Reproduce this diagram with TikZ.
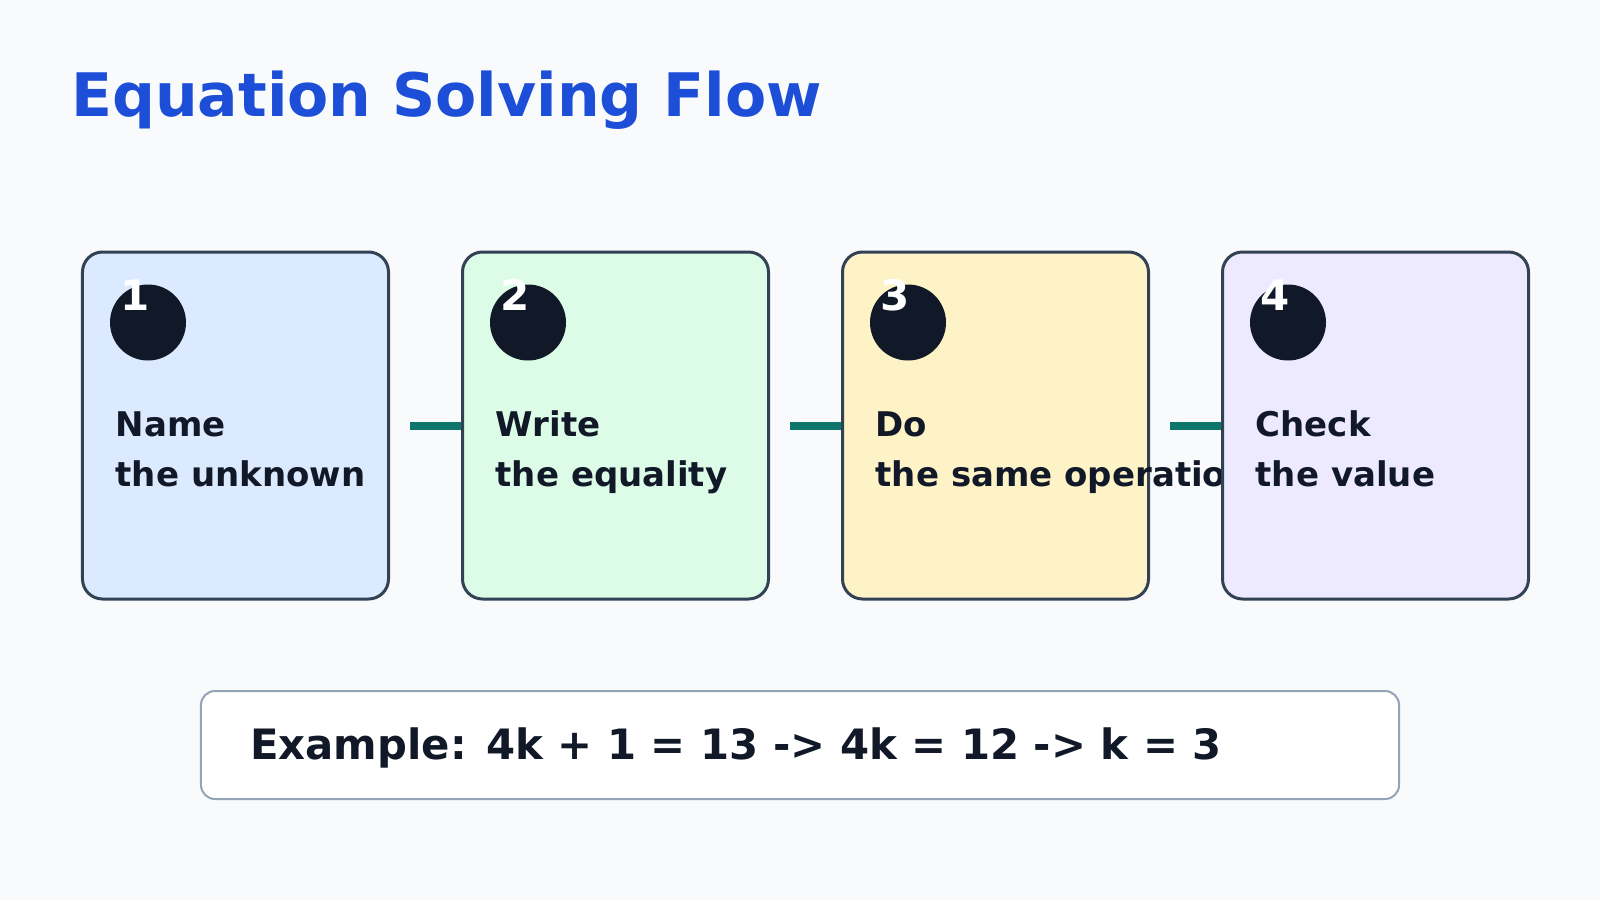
\documentclass[tikz,border=0pt]{standalone}
\usepackage{fontspec}
\setmainfont{DejaVu Sans}
\definecolor{bg}{HTML}{F8FAFC}
\definecolor{titlec}{HTML}{1D4ED8}
\definecolor{strokec}{HTML}{334155}
\definecolor{ink}{HTML}{111827}
\definecolor{connc}{HTML}{0F766E}
\definecolor{exstroke}{HTML}{94A3B8}
\definecolor{fillA}{HTML}{DBEAFE}
\definecolor{fillB}{HTML}{DCFCE7}
\definecolor{fillC}{HTML}{FEF3C7}
\definecolor{fillD}{HTML}{EDE9FE}
\begin{document}
\begin{tikzpicture}[x=1bp,y=-1bp,
  stepbox/.style={draw=strokec, line width=3bp, rounded corners=20bp, minimum width=306bp, minimum height=347bp, inner sep=0pt},
  dot/.style={circle, fill=ink, minimum size=76bp, inner sep=0pt},
  num/.style={anchor=base west, inner sep=0pt, text=white, font=\fontsize{42bp}{42bp}\selectfont\bfseries},
  lbl/.style={anchor=base west, inner sep=0pt, text=ink, font=\fontsize{34bp}{40bp}\selectfont\bfseries},
  conn/.style={draw=connc, line width=8bp},
  titlestyle/.style={anchor=base west, inner sep=0pt, text=titlec, font=\fontsize{60bp}{60bp}\selectfont\bfseries},
  exbox/.style={draw=exstroke, fill=white, line width=2bp, rounded corners=14bp, minimum width=1198bp, minimum height=108bp, inner sep=0pt},
  extext/.style={anchor=base west, inner sep=0pt, text=ink, font=\fontsize{41.8bp}{42bp}\selectfont\bfseries}
]
\useasboundingbox[fill=bg] (0,0) rectangle (1600,900);

\node[titlestyle] (title) at (71,116) {Equation Solving Flow};

% step 1
\node[stepbox, fill=fillA] (b1) at (235.5,425.5) {};
\node[dot] (c1) at ([xshift=67bp,yshift=-72bp]b1.north west) {};
\node[num] (n1) at ([xshift=39bp,yshift=-60bp]b1.north west) {1};
\node[lbl] (l1a) at ([xshift=34.5bp,yshift=-186bp]b1.north west) {Name};
\node[lbl] (l1b) at ([xshift=34.5bp,yshift=-236bp]b1.north west) {the unknown};

% step 2
\node[stepbox, fill=fillB] (b2) at (615.5,425.5) {};
\node[dot] (c2) at ([xshift=67bp,yshift=-72bp]b2.north west) {};
\node[num] (n2) at ([xshift=39bp,yshift=-60bp]b2.north west) {2};
\node[lbl] (l2a) at ([xshift=34.5bp,yshift=-186bp]b2.north west) {Write};
\node[lbl] (l2b) at ([xshift=34.5bp,yshift=-236bp]b2.north west) {the equality};

% step 3
\node[stepbox, fill=fillC] (b3) at (995.5,425.5) {};
\node[dot] (c3) at ([xshift=67bp,yshift=-72bp]b3.north west) {};
\node[num] (n3) at ([xshift=39bp,yshift=-60bp]b3.north west) {3};
\node[lbl] (l3a) at ([xshift=34.5bp,yshift=-186bp]b3.north west) {Do};
\node[lbl] (l3b) at ([xshift=34.5bp,yshift=-236bp]b3.north west) {the same operation};

% step 4
\node[stepbox, fill=fillD] (b4) at (1375.5,425.5) {};
\node[dot] (c4) at ([xshift=67bp,yshift=-72bp]b4.north west) {};
\node[num] (n4) at ([xshift=39bp,yshift=-60bp]b4.north west) {4};
\node[lbl] (l4a) at ([xshift=34.5bp,yshift=-186bp]b4.north west) {Check};
\node[lbl] (l4b) at ([xshift=34.5bp,yshift=-236bp]b4.north west) {the value};

% connectors
\draw[conn] ([xshift=20bp,yshift=-0.5bp]b1.east) -- ([yshift=-0.5bp]b2.west);
\draw[conn] ([xshift=20bp,yshift=-0.5bp]b2.east) -- ([yshift=-0.5bp]b3.west);
\draw[conn] ([xshift=20bp,yshift=-0.5bp]b3.east) -- ([yshift=-0.5bp]b4.west);

% example
\node[exbox] (ex) at (800,745) {};
\node[extext] (ext) at ([xshift=50bp,yshift=-14bp]ex.west) {Example: 4k + 1 = 13 -> 4k = 12 -> k = 3};
\end{tikzpicture}
\end{document}
